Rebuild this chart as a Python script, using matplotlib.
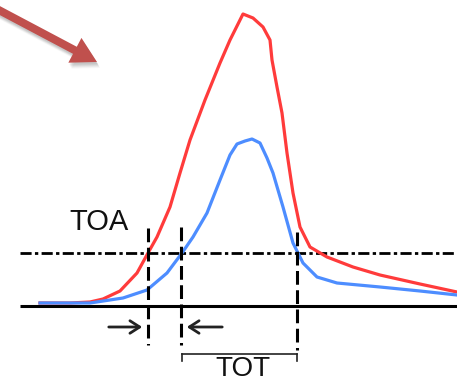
import matplotlib
matplotlib.use("Agg")
import matplotlib.pyplot as plt
import numpy as np
from matplotlib.patches import Polygon

# Pulse shapes (pixel coordinates of the schematic)
red_x = [40, 70, 90, 103, 120, 137, 148, 157, 170, 180, 190, 205, 220, 230, 237, 243, 253, 263, 270, 272, 277, 282, 285, 287, 293, 300, 310, 327, 353, 380, 420, 457]
red_y = [303, 303, 302, 299, 291, 273, 253, 237, 207, 173, 140, 100, 63, 40, 26, 14, 18, 27, 40, 60, 87, 113, 137, 153, 193, 227, 247, 257, 267, 275, 284, 292]
blue_x = [40, 90, 123, 147, 167, 182, 193, 207, 220, 230, 237, 245, 252, 260, 267, 273, 283, 293, 303, 317, 337, 380, 420, 457]
blue_y = [303, 303, 298, 290, 273, 253, 237, 213, 180, 155, 144, 141, 139, 143, 158, 173, 207, 243, 263, 277, 283, 287, 291, 295]

baseline_y = 306
threshold_y = 253
marker_x = [148, 181, 297]
labels = ["TOA", "TOT"]

plt.rcParams["font.family"] = ["Liberation Sans", "DejaVu Sans"]

fig = plt.figure(figsize=(4.57, 3.82), dpi=100)
ax = fig.add_axes([0, 0, 1, 1])
ax.set_xlim(0, 457)
ax.set_ylim(382, 0)
ax.axis("off")

lw = 2.2
ax.plot([20, 457], [baseline_y, baseline_y], color="black", lw=lw, solid_capstyle="butt")
ax.plot([20, 457], [threshold_y, threshold_y], color="black", lw=2.0,
        dashes=(4, 1.2, 1.2, 1.2))

ax.plot(red_x, red_y, color="#ff3b3b", lw=2.3, solid_joinstyle="round")
ax.plot(blue_x, blue_y, color="#4d8dff", lw=2.3, solid_joinstyle="round")

ax.plot([marker_x[0]] * 2, [228, 345], color="black", lw=lw, dashes=(4.5, 1.8))
ax.plot([marker_x[1]] * 2, [227, 345], color="black", lw=lw, dashes=(4.5, 1.8))
ax.plot([marker_x[2]] * 2, [232, 350], color="black", lw=lw, dashes=(4.5, 1.8))

# small arrows
ax.annotate("", xy=(145, 327), xytext=(106, 327),
            arrowprops=dict(arrowstyle="->,head_length=0.7,head_width=0.45", color="#222222", lw=2.0))
ax.annotate("", xy=(184, 327), xytext=(225, 327),
            arrowprops=dict(arrowstyle="->,head_length=0.7,head_width=0.45", color="#222222", lw=2.0))

# TOT bracket
ax.plot([182, 297], [354, 354], color="#222222", lw=1.2)
ax.plot([182, 182], [354, 361], color="#222222", lw=1.2)
ax.plot([297, 297], [354, 361], color="#222222", lw=1.2)

ax.text(99, 222, labels[0], ha="center", va="center", fontsize=21, color="#111111")
ax.text(243, 376, labels[1], ha="center", va="baseline", fontsize=20, color="#111111")


# Big pointer arrow (block arrow polygon) with soft shadow
def block_arrow(x0, y0, x1, y1, shaft_w, head_w, head_l):
    p0 = np.array([x0, y0], float)
    p1 = np.array([x1, y1], float)
    d = p1 - p0
    d /= np.hypot(*d)
    n = np.array([-d[1], d[0]])
    hb = p1 - d * head_l
    pts = [p0 + n * shaft_w / 2, hb + n * shaft_w / 2, hb + n * head_w / 2, p1,
           hb - n * head_w / 2, hb - n * shaft_w / 2, p0 - n * shaft_w / 2]
    return np.array(pts)


for off, a in [(6, 0.05), (5, 0.07), (4, 0.09), (3, 0.1), (2, 0.1)]:
    pts = block_arrow(-5 + off * 0.5, 8 + off, 97 + off * 0.5, 62 + off, 8, 28, 25)
    ax.add_patch(Polygon(pts, closed=True, facecolor="#666666", alpha=a, lw=0, zorder=1))
ax.add_patch(Polygon(block_arrow(-5, 8, 97, 62, 8, 28, 25), closed=True,
                     facecolor="#c0504d", lw=0, zorder=2))

fig.savefig("out.png", dpi=100)
